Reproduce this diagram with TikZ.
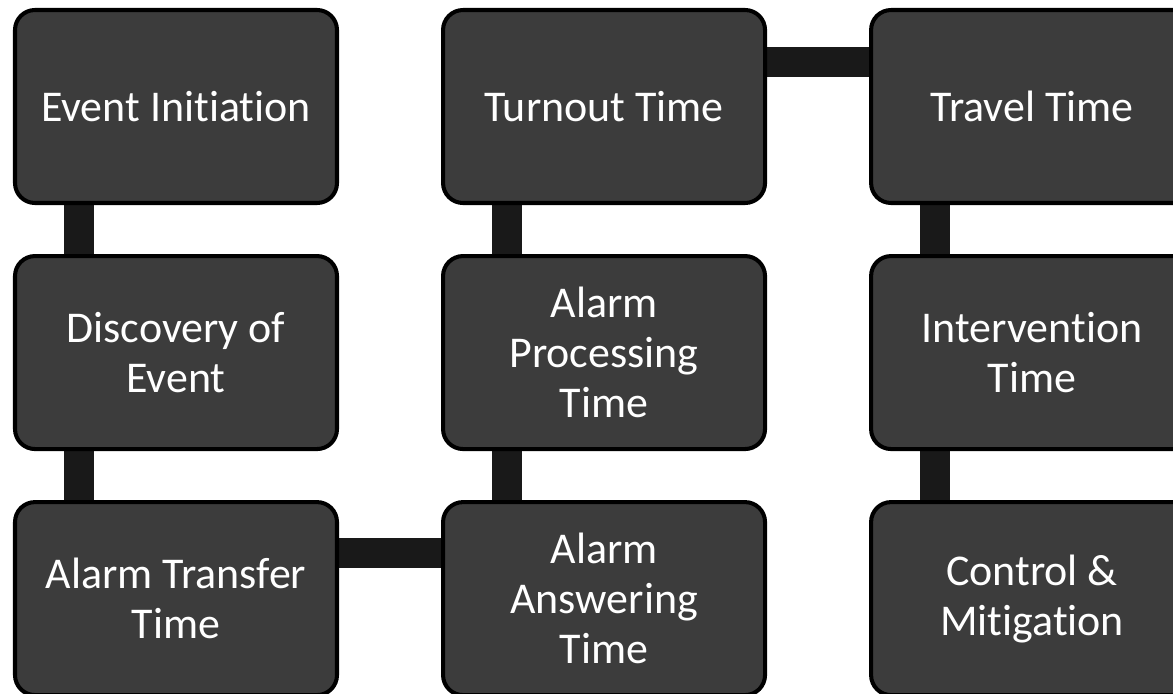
\documentclass[tikz,border=0pt]{standalone}
\usepackage{fontspec}
\setmainfont{Carlito}[Ligatures=NoCommon]
\usetikzlibrary{positioning,backgrounds}

\begin{document}
\begin{tikzpicture}[
    stage/.style={rectangle, rounded corners=0.4cm, draw=black, line width=2.3pt, fill={rgb,255:red,60;green,60;blue,60}, text=white, minimum width=6.44cm, minimum height=3.86cm, align=center, font=\fontsize{25}{28.5}\selectfont},
    link/.style={line width=0.6cm, draw={rgb,255:red,25;green,25;blue,25}},
    node distance=0.98cm and 2.04cm
]
    \path[use as bounding box, clip] (0,0) rectangle (23.46,-13.88);

    \node[stage] (ei) at (3.52,-2.13) {Event Initiation};
    \node[stage, below=of ei] (de) {Discovery of\\Event};
    \node[stage, below=of de] (at) {Alarm Transfer\\Time};
    \node[stage, right=of at] (aa) {Alarm\\Answering\\Time};
    \node[stage, above=of aa] (ap) {Alarm\\Processing\\Time};
    \node[stage, above=of ap] (tt) {Turnout Time};
    \node[stage, right=of tt] (tv) {Travel Time};
    \node[stage, below=of tv] (it) {Intervention\\Time};
    \node[stage, below=of it] (cm) {Control \&\\Mitigation};

    \begin{scope}[on background layer]
        \draw[link] ([xshift=-1.95cm]ei.center) -- ([xshift=-1.95cm]de.center);
        \draw[link] ([xshift=-1.95cm]de.center) -- ([xshift=-1.95cm]at.center);
        \draw[link] ([yshift=0.92cm]at.center) -- ([yshift=0.92cm]aa.center);
        \draw[link] ([xshift=-1.95cm]aa.center) -- ([xshift=-1.95cm]ap.center);
        \draw[link] ([xshift=-1.95cm]ap.center) -- ([xshift=-1.95cm]tt.center);
        \draw[link] ([yshift=0.89cm]tt.center) -- ([yshift=0.89cm]tv.center);
        \draw[link] ([xshift=-1.95cm]tv.center) -- ([xshift=-1.95cm]it.center);
        \draw[link] ([xshift=-1.95cm]it.center) -- ([xshift=-1.95cm]cm.center);
    \end{scope}
\end{tikzpicture}
\end{document}
